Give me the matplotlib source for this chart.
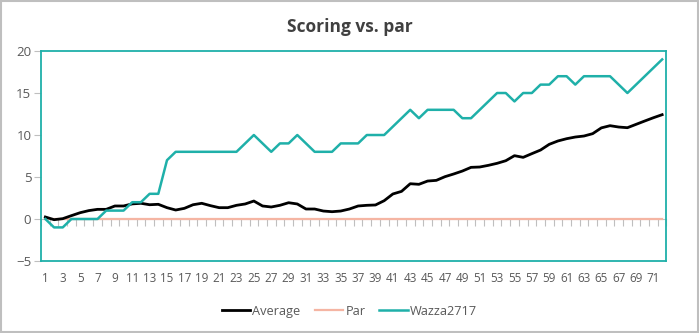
import numpy as np
import matplotlib
matplotlib.use("Agg")
import matplotlib.pyplot as plt
from matplotlib.ticker import FixedLocator, NullFormatter

plt.rcParams['font.family'] = ['Open Sans', 'Noto Sans', 'DejaVu Sans']

# Round numbers 1..72
rounds = list(range(1, 73))

average = [0.24, -0.08, 0.04, 0.4, 0.75, 1.0, 1.15, 1.15, 1.55, 1.55,
           1.8, 1.87, 1.7, 1.75, 1.35, 1.07, 1.27, 1.7, 1.87, 1.59,
           1.35, 1.35, 1.63, 1.79, 2.14, 1.55, 1.43, 1.63, 1.94, 1.79,
           1.19, 1.19, 0.95, 0.87, 0.95, 1.19, 1.55, 1.63, 1.67, 2.18,
           2.98, 3.29, 4.2, 4.13, 4.52, 4.6, 5.04, 5.36, 5.71, 6.15,
           6.19, 6.39, 6.63, 6.94, 7.54, 7.34, 7.78, 8.21, 8.89, 9.29,
           9.56, 9.76, 9.88, 10.16, 10.85, 11.11, 10.95, 10.87, 11.27, 11.67,
           12.06, 12.42]

par = [0] * 72

wazza = [0, -1, -1, 0, 0, 0, 0, 1, 1, 1,
         2, 2, 3, 3, 7, 8, 8, 8, 8, 8,
         8, 8, 8, 9, 10, 9, 8, 9, 9, 10,
         9, 8, 8, 8, 9, 9, 9, 10, 10, 10,
         11, 12, 13, 12, 13, 13, 13, 13, 12, 12,
         13, 14, 15, 15, 14, 15, 15, 16, 16, 17,
         17, 16, 17, 17, 17, 17, 16, 15, 16, 17,
         18, 19]

teal = '#1FB0A9'
grey_text = '#595959'
grey_tick = '#BFBFBF'

fig = plt.figure(figsize=(6.99, 3.33), dpi=100)
ax = fig.add_axes([0.0587, 0.2162, 0.8948, 0.6306])

ax.plot(rounds, par, color='#F5B5A3', lw=1.6, label='Par', zorder=2)
ax.plot(rounds, average, color='black', lw=2.0, label='Average', zorder=3)
ax.plot(rounds, wazza, color=teal, lw=1.8, label='Wazza2717', zorder=4)

ax.set_xlim(0.5, 72.5)
ax.set_ylim(-5, 20)
ax.set_yticks([-5, 0, 5, 10, 15, 20])
ax.tick_params(axis='y', length=5, width=0.8, color=grey_tick,
               labelcolor=grey_text, labelsize=9.5, pad=2)

# category labels along the bottom of the plot area
ax.set_xticks(rounds[::2])
ax.tick_params(axis='x', length=0, labelcolor=grey_text, labelsize=8.4, pad=8)

for side in ['left', 'right', 'top', 'bottom']:
    ax.spines[side].set_color(teal)
    ax.spines[side].set_linewidth(1.3)

# horizontal axis line crosses at zero, ticks between categories
zero_frac = (0 - (-5)) / 25
secax = ax.secondary_xaxis(zero_frac)
secax.spines['bottom'].set_color(grey_tick)
secax.xaxis.set_major_locator(FixedLocator(np.arange(0.5, 73, 1)))
secax.xaxis.set_major_formatter(NullFormatter())
secax.tick_params(axis='x', length=5, width=0.8, color=grey_tick, direction='out')

fig.suptitle('Scoring vs. par', x=0.5, y=0.945, fontsize=12.5,
             fontweight='bold', color='#404040')

handles, labels = ax.get_legend_handles_labels()
order = [1, 0, 2]
fig.legend([handles[i] for i in order], [labels[i] for i in order],
           loc='center', bbox_to_anchor=(0.5, 0.066), ncol=3, frameon=False,
           fontsize=9.2, labelcolor=grey_text, handlelength=2.2,
           handletextpad=0.2, columnspacing=1.1)

fig.add_artist(plt.Rectangle((0.001, 0.002), 0.997, 0.995, transform=fig.transFigure,
                             fill=False, edgecolor='#BFBFBF', lw=1.5))

fig.savefig('out.png', dpi=100)
